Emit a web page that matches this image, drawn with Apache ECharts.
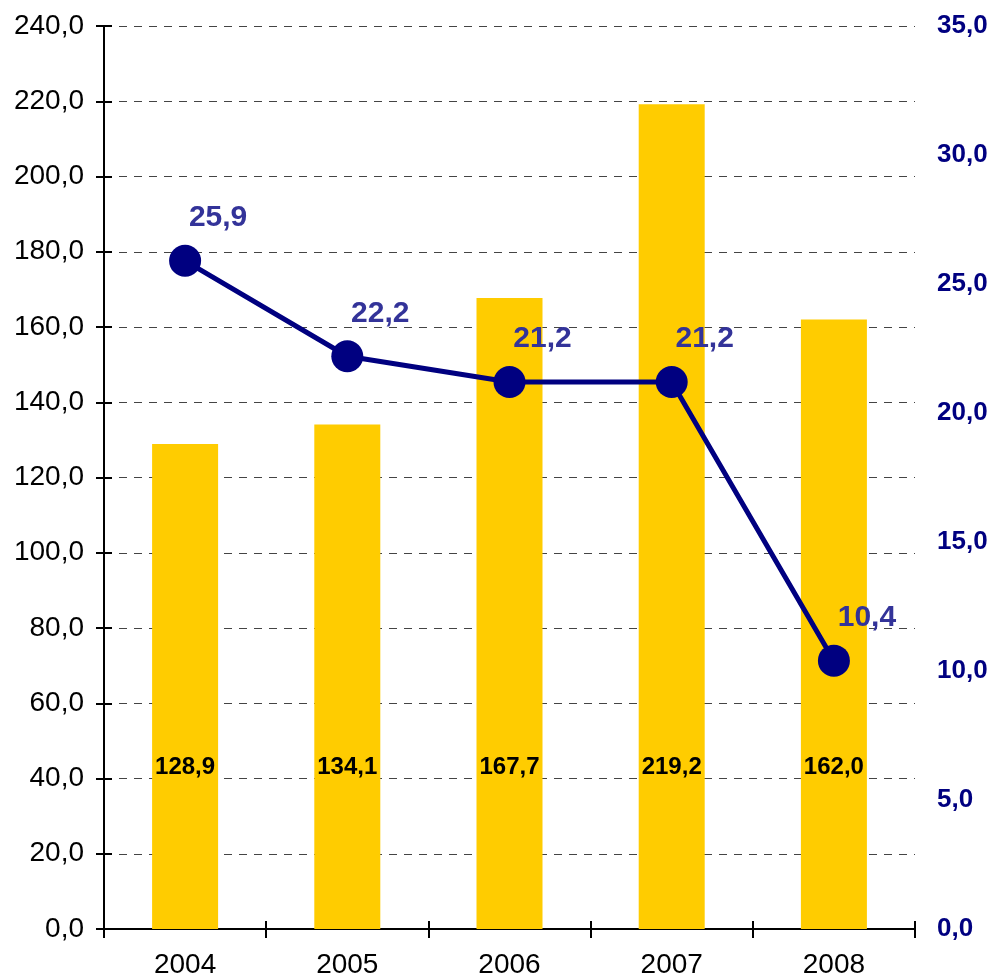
<!DOCTYPE html>
<html>
<head>
<meta charset="utf-8">
<script src="https://cdn.jsdelivr.net/npm/echarts@6/dist/echarts.min.js"></script>
<style>
    html, body { margin: 0; padding: 0; background: #fff; }
    #chart { width: 996px; height: 980px; }
</style>
</head>
<body>
<div id="chart"></div>
<script>
// 数据
var years = ['2004', '2005', '2006', '2007', '2008'];
var barValues = [128.9, 134.1, 167.7, 219.2, 162.0];
var lineValues = [25.9, 22.2, 21.2, 21.2, 10.4];

function fmt(v) {
    return v.toFixed(1).replace('.', ',');
}

var chart = echarts.init(document.getElementById('chart'));
var option = {
    animation: false,
    textStyle: { fontFamily: 'Liberation Sans, Arial, sans-serif' },
    grid: { left: 104, right: 81, top: 26, bottom: 51 },
    xAxis: [
        {
            type: 'category',
            data: years,
            boundaryGap: true,
            axisLine: { lineStyle: { color: '#000', width: 2 } },
            axisTick: { show: true, length: 9, lineStyle: { color: '#000', width: 2 } },
            axisLabel: { color: '#000', fontSize: 28, margin: 22 },
            splitLine: { show: false }
        },
        {
            type: 'category',
            data: years,
            position: 'bottom',
            axisLine: { show: false },
            axisTick: { show: true, inside: true, length: 8, lineStyle: { color: '#000', width: 2 } },
            axisLabel: { show: false }
        }
    ],
    yAxis: [
        {
            type: 'value',
            min: 0, max: 240, interval: 20,
            axisLine: { show: true, lineStyle: { color: '#000', width: 2 } },
            axisTick: { show: true, length: 8, lineStyle: { color: '#000', width: 2 } },
            axisLabel: { color: '#000', fontSize: 28, margin: 20, formatter: fmt },
            splitLine: { show: true, lineStyle: { color: '#444', type: [8, 7], width: 1 } }
        },
        {
            type: 'value',
            min: 0, max: 35, interval: 5,
            position: 'right',
            axisLine: { show: false },
            axisTick: { show: false },
            axisLabel: { color: '#000080', fontSize: 26, fontWeight: 'bold', margin: 22, formatter: fmt },
            splitLine: { show: false }
        },
        {
            type: 'value',
            min: 0, max: 240, interval: 20,
            position: 'left',
            axisLine: { show: false },
            axisTick: { show: true, inside: true, length: 8, lineStyle: { color: '#000', width: 2 } },
            axisLabel: { show: false },
            splitLine: { show: false }
        }
    ],
    series: [
        {
            type: 'bar',
            data: barValues,
            barWidth: 66,
            itemStyle: { color: '#FFCC00' },
            label: {
                show: true,
                position: 'insideBottom',
                distance: 150,
                color: '#000',
                fontSize: 24,
                fontWeight: 'bold',
                formatter: function (p) { return fmt(p.value); }
            }
        },
        {
            type: 'line',
            yAxisIndex: 1,
            data: lineValues,
            symbol: 'circle',
            symbolSize: 32,
            lineStyle: { color: '#000080', width: 5 },
            itemStyle: { color: '#000080' },
            label: {
                show: true,
                position: 'top',
                distance: 4,
                offset: [33, -8],
                color: '#333399',
                fontSize: 30,
                fontWeight: 'bold',
                formatter: function (p) { return fmt(p.value); }
            },
            z: 5
        }
    ]
};
chart.setOption(option);
</script>
</body>
</html>
